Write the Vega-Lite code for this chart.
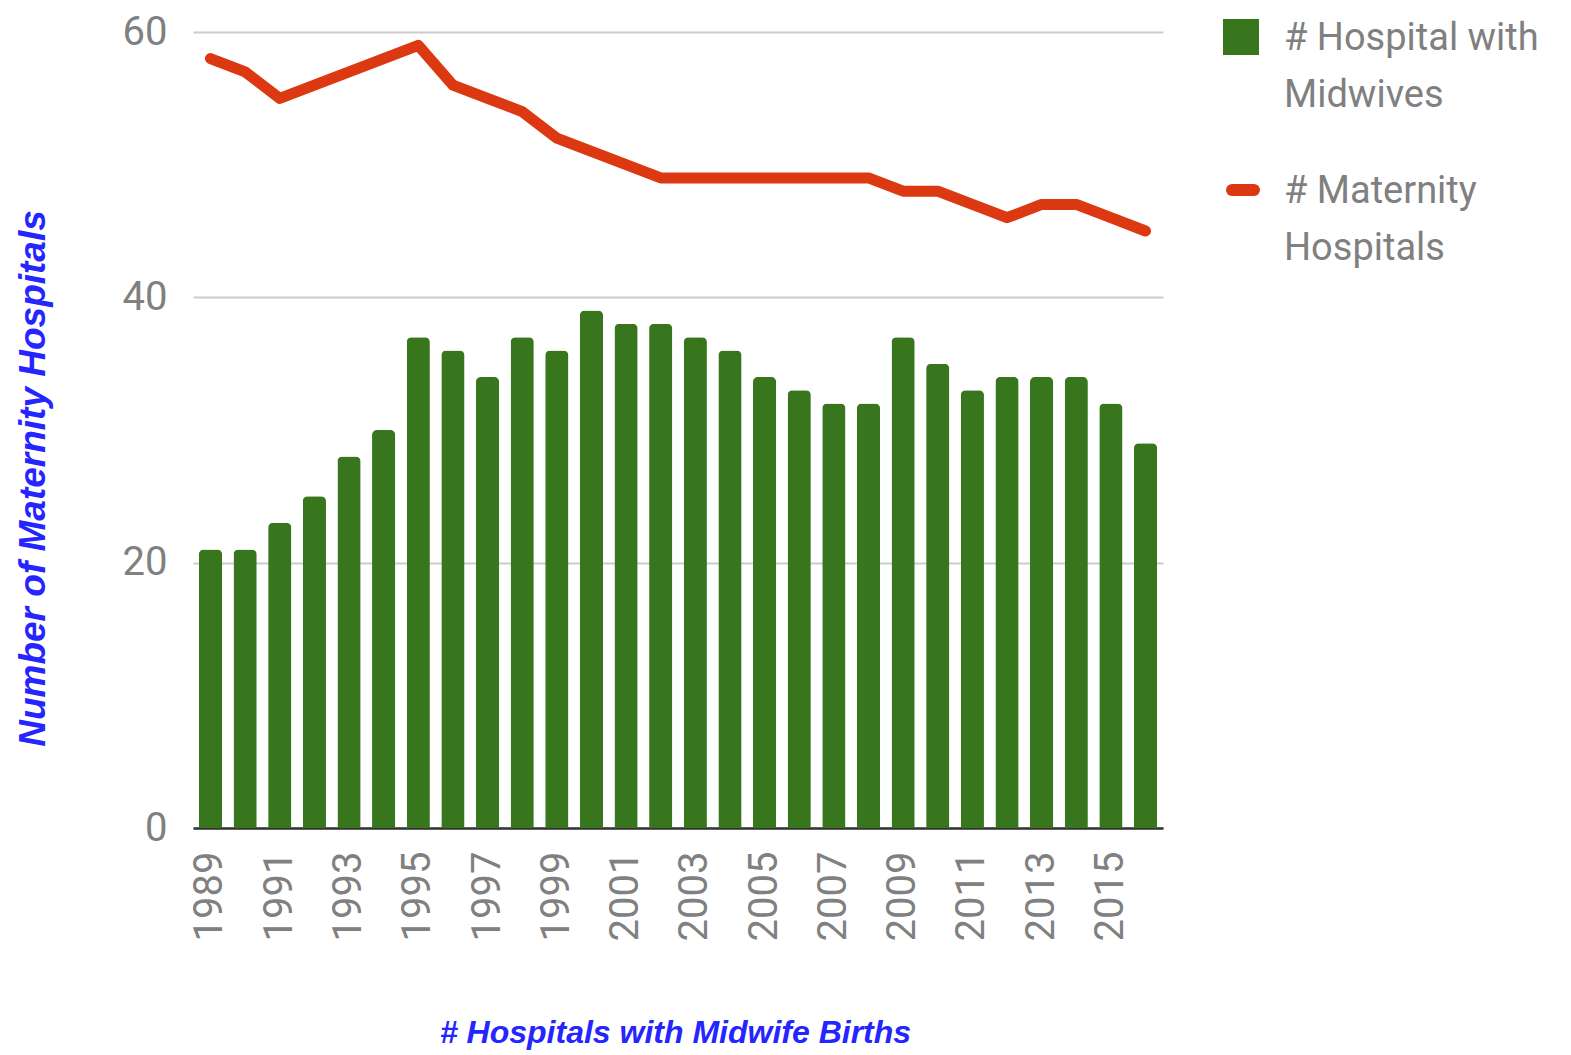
{
  "$schema": "https://vega.github.io/schema/vega-lite/v6.json",
  "autosize": {"type": "none"},
  "width": 970,
  "height": 796,
  "padding": {"left": 193, "top": 32, "right": 408, "bottom": 227},
  "background": "white",
  "config": {"view": {"stroke": null}},
  "data": {"values": [
    {"year": 1989, "midwives": 21, "maternity": 58},
    {"year": 1990, "midwives": 21, "maternity": 57},
    {"year": 1991, "midwives": 23, "maternity": 55},
    {"year": 1992, "midwives": 25, "maternity": 56},
    {"year": 1993, "midwives": 28, "maternity": 57},
    {"year": 1994, "midwives": 30, "maternity": 58},
    {"year": 1995, "midwives": 37, "maternity": 59},
    {"year": 1996, "midwives": 36, "maternity": 56},
    {"year": 1997, "midwives": 34, "maternity": 55},
    {"year": 1998, "midwives": 37, "maternity": 54},
    {"year": 1999, "midwives": 36, "maternity": 52},
    {"year": 2000, "midwives": 39, "maternity": 51},
    {"year": 2001, "midwives": 38, "maternity": 50},
    {"year": 2002, "midwives": 38, "maternity": 49},
    {"year": 2003, "midwives": 37, "maternity": 49},
    {"year": 2004, "midwives": 36, "maternity": 49},
    {"year": 2005, "midwives": 34, "maternity": 49},
    {"year": 2006, "midwives": 33, "maternity": 49},
    {"year": 2007, "midwives": 32, "maternity": 49},
    {"year": 2008, "midwives": 32, "maternity": 49},
    {"year": 2009, "midwives": 37, "maternity": 48},
    {"year": 2010, "midwives": 35, "maternity": 48},
    {"year": 2011, "midwives": 33, "maternity": 47},
    {"year": 2012, "midwives": 34, "maternity": 46},
    {"year": 2013, "midwives": 34, "maternity": 47},
    {"year": 2014, "midwives": 34, "maternity": 47},
    {"year": 2015, "midwives": 32, "maternity": 46},
    {"year": 2016, "midwives": 29, "maternity": 45}
  ]},
  "encoding": {
    "x": {
      "field": "year",
      "type": "ordinal",
      "scale": {"paddingInner": 0.33, "paddingOuter": 0.17},
      "axis": {
        "values": [1989, 1991, 1993, 1995, 1997, 1999, 2001, 2003, 2005, 2007, 2009, 2011, 2013, 2015],
        "labelAngle": -90,
        "labelFont": "Roboto",
        "labelFontSize": 40,
        "labelColor": "#808080",
        "labelPadding": 23,
        "ticks": false,
        "domain": true,
        "domainColor": "#333333",
        "domainWidth": 2.5,
        "title": "# Hospitals with Midwife Births",
        "titleFont": "Liberation Sans",
        "titleFontStyle": "italic",
        "titleFontWeight": "bold",
        "titleFontSize": 32,
        "titleColor": "#2525ff",
        "titleBaseline": "middle",
        "titleX": 482,
        "titleY": 204
      }
    }
  },
  "layer": [
    {
      "mark": {"type": "bar", "cornerRadiusTopLeft": 5, "cornerRadiusTopRight": 5},
      "encoding": {
        "y": {
          "field": "midwives",
          "type": "quantitative",
          "scale": {"domain": [0, 60], "nice": false},
          "axis": {
            "values": [0, 20, 40, 60],
            "labelFont": "Roboto",
            "labelFontSize": 40,
            "labelColor": "#808080",
            "labelPadding": 26,
            "ticks": false,
            "domain": false,
            "gridColor": "#cccccc",
            "gridWidth": 2,
            "title": "Number of Maternity Hospitals",
            "titleFont": "Liberation Sans",
            "titleFontStyle": "italic",
            "titleFontWeight": "bold",
            "titleFontSize": 37,
            "titleColor": "#2525ff",
            "titleAngle": -90,
            "titleBaseline": "middle",
            "titleX": -160,
            "titleY": 446
          }
        },
        "fill": {
          "datum": "# Hospital with Midwives",
          "type": "nominal",
          "scale": {"range": ["#38761d"]},
          "legend": {
            "orient": "none",
            "legendX": 1029,
            "legendY": -14,
            "padding": 0,
            "title": null,
            "symbolType": "square",
            "symbolSize": 1296,
            "symbolStrokeWidth": 0,
            "labelFont": "Roboto",
            "labelFontSize": 38,
            "labelColor": "#808080",
            "labelOffset": 24,
            "labelLimit": 400,
            "labelBaseline": "top",
            "labelExpr": "['# Hospital with', 'Midwives']",
            "encode": {"labels": {"update": {"lineHeight": {"value": 57}, "dy": {"value": -17}}}}
          }
        }
      }
    },
    {
      "mark": {"type": "line", "strokeWidth": 11, "strokeJoin": "round", "strokeCap": "round"},
      "encoding": {
        "y": {"field": "maternity", "type": "quantitative"},
        "stroke": {
          "datum": "# Maternity Hospitals",
          "type": "nominal",
          "scale": {"range": ["#dc3912"]},
          "legend": {
            "orient": "none",
            "legendX": 1031,
            "legendY": 139,
            "padding": 0,
            "title": null,
            "symbolType": "stroke",
            "symbolSize": 484,
            "symbolStrokeWidth": 12,
            "labelFont": "Roboto",
            "labelFontSize": 38,
            "labelColor": "#808080",
            "labelOffset": 22,
            "labelLimit": 400,
            "labelBaseline": "top",
            "labelExpr": "['# Maternity', 'Hospitals']",
            "encode": {
              "labels": {"update": {"lineHeight": {"value": 57}, "dy": {"value": -17}}},
              "symbols": {"update": {"strokeCap": {"value": "round"}}}
            }
          }
        }
      }
    }
  ]
}
